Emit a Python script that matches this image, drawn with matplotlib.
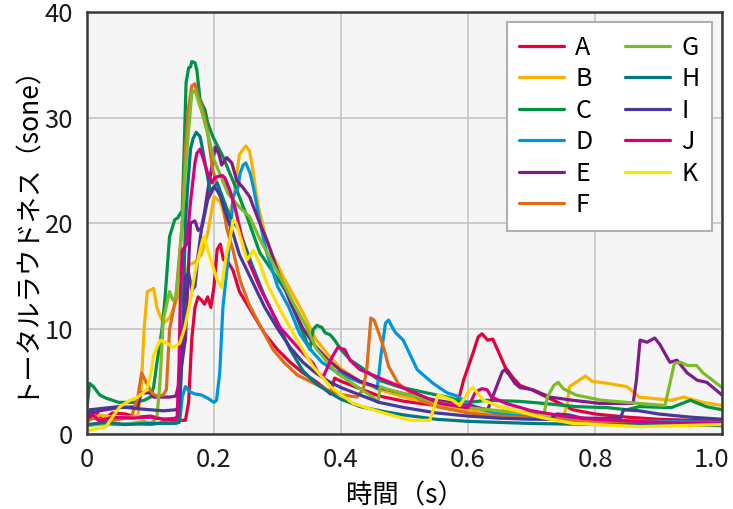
import matplotlib
matplotlib.use("Agg")
import matplotlib.pyplot as plt
from matplotlib.transforms import ScaledTranslation

plt.rcParams['font.family'] = ['Noto Sans CJK JP', 'DejaVu Sans']

# Loudness traces: (time [s], total loudness [sone]) for each sample
labels = ["A", "B", "C", "D", "E", "F", "G", "H", "I", "J", "K"]
colors = ["#e4003a", "#f9b200", "#009245", "#0096dc", "#7e1d8a", "#e06b18",
          "#7cbc2a", "#007a80", "#453a98", "#d6007e", "#ffe100"]

curve_A = [(0, 1.0), (0.005, 2.3), (0.015, 2.0), (0.025, 1.3), (0.04, 2.0), (0.06, 1.9), (0.08, 1.6),
           (0.10, 1.7), (0.12, 1.4), (0.14, 1.3), (0.155, 1.3), (0.16, 3.0), (0.165, 9.0), (0.17, 12.0),
           (0.175, 13.0), (0.18, 12.7), (0.185, 12.3), (0.19, 13.0), (0.195, 12.0), (0.2, 14.0),
           (0.205, 17.5), (0.21, 18.0), (0.215, 16.5), (0.22, 16.5), (0.23, 15.5), (0.24, 13.5),
           (0.26, 11.5), (0.28, 9.5), (0.30, 8.0), (0.32, 6.8), (0.34, 5.8), (0.36, 5.0), (0.375, 4.3),
           (0.383, 3.8), (0.39, 5.3), (0.40, 5.0), (0.43, 4.3), (0.46, 3.6), (0.50, 3.1), (0.55, 2.7),
           (0.58, 2.5), (0.585, 3.2), (0.593, 5.1), (0.608, 7.7), (0.616, 9.2), (0.622, 9.5),
           (0.631, 8.9), (0.639, 9.0), (0.648, 7.8), (0.658, 6.4), (0.67, 5.4), (0.682, 4.6),
           (0.70, 4.2), (0.724, 3.5), (0.745, 2.9), (0.765, 2.3), (0.80, 1.9), (0.85, 1.6),
           (0.90, 1.4), (0.95, 1.3), (1.0, 1.2)]

curve_B = [(0, 1.2), (0.02, 1.8), (0.05, 1.5), (0.08, 1.7), (0.085, 4.0), (0.09, 10.0), (0.095, 13.5),
           (0.105, 13.8), (0.11, 12.0), (0.12, 10.5), (0.13, 11.0), (0.14, 12.5), (0.15, 14.5),
           (0.16, 16.0), (0.17, 16.3), (0.18, 17.0), (0.19, 19.0), (0.2, 22.5), (0.21, 22.0),
           (0.22, 20.0), (0.23, 22.0), (0.24, 26.5), (0.25, 27.3), (0.256, 26.8), (0.26, 25.5),
           (0.265, 23.4), (0.27, 21.5), (0.275, 20.3), (0.28, 19.0), (0.29, 17.2), (0.31, 14.8),
           (0.34, 11.5), (0.36, 9.0), (0.38, 7.5), (0.40, 6.2), (0.43, 5.0), (0.46, 4.2), (0.50, 3.5),
           (0.55, 2.8), (0.60, 2.3), (0.65, 2.0), (0.70, 1.8), (0.75, 1.6), (0.756, 2.8), (0.76, 4.5),
           (0.78, 5.3), (0.785, 5.5), (0.795, 5.0), (0.82, 4.8), (0.85, 4.5), (0.87, 3.5), (0.92, 3.2),
           (0.94, 3.5), (0.97, 3.0), (1.0, 2.7)]

curve_C = [(0, 2.5), (0.004, 4.8), (0.01, 4.5), (0.02, 3.7), (0.03, 3.4), (0.05, 3.0), (0.075, 3.0),
           (0.09, 3.2), (0.10, 3.5), (0.105, 4.5), (0.11, 6.7), (0.118, 9.9), (0.123, 13.0),
           (0.13, 18.7), (0.138, 20.3), (0.143, 20.5), (0.15, 21.2), (0.153, 27.0), (0.156, 33.3),
           (0.16, 34.7), (0.163, 34.8), (0.165, 35.3), (0.17, 35.2), (0.173, 34.5), (0.178, 31.7),
           (0.186, 30.7), (0.19, 29.5), (0.198, 28.2), (0.214, 26.3), (0.236, 23.1), (0.252, 20.6),
           (0.272, 17.2), (0.315, 13.4), (0.34, 9.6), (0.351, 8.0), (0.356, 9.9), (0.362, 10.3),
           (0.37, 10.1), (0.375, 9.6), (0.383, 9.4), (0.39, 8.9), (0.40, 8.0), (0.415, 7.0),
           (0.43, 6.4), (0.46, 5.1), (0.49, 4.5), (0.535, 3.9), (0.567, 3.5), (0.60, 3.0),
           (0.63, 3.2), (0.68, 3.1), (0.72, 2.9), (0.77, 2.6), (0.82, 2.5), (0.85, 2.3), (0.87, 2.6),
           (0.92, 2.5), (0.95, 3.2), (0.975, 2.6), (1.0, 2.3)]

curve_D = [(0, 0.8), (0.02, 1.0), (0.05, 0.9), (0.08, 1.0), (0.10, 0.9), (0.12, 1.1), (0.14, 1.0),
           (0.146, 1.2), (0.15, 3.5), (0.155, 4.5), (0.162, 4.0), (0.17, 3.8), (0.18, 3.7), (0.19, 3.4),
           (0.2, 3.0), (0.204, 3.2), (0.209, 5.8), (0.214, 12.0), (0.222, 16.5), (0.227, 20.0),
           (0.23, 22.5), (0.238, 23.4), (0.241, 24.7), (0.246, 25.5), (0.25, 25.7), (0.257, 24.7),
           (0.262, 23.4), (0.268, 21.5), (0.275, 19.3), (0.283, 17.2), (0.30, 14.0), (0.318, 12.0),
           (0.335, 9.5), (0.352, 8.0), (0.37, 6.8), (0.39, 6.0), (0.41, 5.4), (0.43, 4.9), (0.45, 4.6),
           (0.457, 4.3), (0.463, 7.5), (0.47, 10.5), (0.475, 10.8), (0.48, 10.2), (0.486, 9.6),
           (0.498, 8.9), (0.52, 6.1), (0.545, 4.8), (0.567, 3.9), (0.583, 3.6), (0.60, 2.9),
           (0.615, 2.5), (0.63, 2.2), (0.65, 1.9), (0.70, 1.6), (0.75, 1.4), (0.80, 1.3), (0.90, 1.2),
           (1.0, 1.1)]

curve_E = [(0, 1.8), (0.02, 2.2), (0.05, 2.5), (0.08, 2.6), (0.085, 3.9), (0.10, 3.9), (0.105, 3.5),
           (0.13, 3.5), (0.14, 3.6), (0.145, 4.8), (0.155, 9.0), (0.16, 16.0), (0.163, 20.0),
           (0.17, 20.2), (0.175, 19.3), (0.18, 19.5), (0.185, 21.0), (0.19, 23.0), (0.197, 25.5),
           (0.202, 27.2), (0.208, 26.5), (0.212, 25.5), (0.22, 26.2), (0.228, 25.7), (0.236, 24.0),
           (0.245, 23.4), (0.256, 22.5), (0.272, 20.0), (0.285, 18.1), (0.30, 15.5), (0.32, 12.5),
           (0.34, 10.0), (0.36, 8.3), (0.38, 7.0), (0.40, 6.0), (0.43, 5.0), (0.46, 4.4), (0.50, 3.8),
           (0.55, 3.2), (0.60, 2.7), (0.631, 2.3), (0.645, 4.5), (0.654, 5.9), (0.658, 6.1),
           (0.665, 5.6), (0.674, 4.8), (0.682, 4.4), (0.702, 4.2), (0.729, 3.5), (0.765, 3.2),
           (0.808, 2.9), (0.86, 2.9), (0.865, 5.0), (0.871, 8.9), (0.882, 8.7), (0.894, 9.1),
           (0.902, 8.5), (0.918, 6.8), (0.929, 7.0), (0.945, 5.8), (0.961, 5.1), (0.976, 4.9),
           (1.0, 3.7)]

curve_F = [(0, 1.3), (0.01, 1.5), (0.03, 1.2), (0.05, 1.4), (0.07, 1.6), (0.08, 3.5), (0.086, 5.8),
           (0.094, 4.8), (0.102, 3.9), (0.11, 3.6), (0.12, 3.7), (0.125, 4.2), (0.13, 9.9),
           (0.14, 13.0), (0.15, 20.0), (0.155, 27.0), (0.16, 31.0), (0.165, 33.0), (0.17, 33.2),
           (0.175, 32.0), (0.181, 31.0), (0.189, 29.0), (0.198, 25.0), (0.213, 22.2), (0.22, 19.5),
           (0.23, 17.4), (0.241, 14.6), (0.255, 12.3), (0.268, 10.8), (0.293, 8.0), (0.31, 6.8),
           (0.331, 5.6), (0.351, 5.0), (0.378, 4.2), (0.403, 3.7), (0.425, 3.5), (0.435, 4.2),
           (0.441, 6.4), (0.447, 11.0), (0.452, 10.8), (0.46, 9.5), (0.468, 8.0), (0.475, 6.4),
           (0.49, 4.8), (0.51, 3.9), (0.525, 3.2), (0.55, 2.6), (0.60, 2.0), (0.65, 1.7), (0.70, 1.5),
           (0.80, 1.2), (0.90, 1.1), (1.0, 1.0)]

curve_G = [(0, 0.8), (0.03, 1.0), (0.06, 0.9), (0.09, 1.2), (0.10, 1.0), (0.11, 1.5), (0.115, 5.0),
           (0.12, 10.8), (0.13, 13.5), (0.135, 12.7), (0.14, 13.0), (0.145, 16.0), (0.15, 20.0),
           (0.155, 25.0), (0.16, 28.8), (0.165, 32.3), (0.17, 32.6), (0.18, 30.7), (0.19, 28.5),
           (0.2, 26.0), (0.222, 22.8), (0.24, 21.5), (0.256, 20.6), (0.272, 18.5), (0.29, 16.5),
           (0.304, 14.9), (0.325, 12.4), (0.346, 10.1), (0.362, 8.0), (0.393, 5.8), (0.425, 4.5),
           (0.45, 3.5), (0.458, 3.0), (0.462, 4.5), (0.47, 4.3), (0.50, 3.8), (0.55, 3.0), (0.60, 2.5),
           (0.65, 2.2), (0.70, 2.0), (0.72, 2.0), (0.725, 3.5), (0.735, 4.6), (0.742, 4.9), (0.75, 4.3),
           (0.77, 3.7), (0.81, 3.2), (0.87, 2.9), (0.91, 2.7), (0.915, 4.0), (0.925, 6.7), (0.935, 6.8),
           (0.945, 6.5), (0.96, 6.5), (0.97, 5.8), (0.985, 5.1), (1.0, 4.4)]

curve_H = [(0, 0.9), (0.03, 1.1), (0.06, 0.9), (0.10, 1.0), (0.13, 1.0), (0.145, 1.1), (0.15, 8.0),
           (0.155, 20.0), (0.158, 23.0), (0.163, 27.0), (0.167, 28.0), (0.172, 28.6), (0.178, 28.2),
           (0.182, 27.0), (0.188, 25.0), (0.194, 23.0), (0.205, 23.8), (0.21, 23.0), (0.225, 20.6),
           (0.24, 19.3), (0.26, 16.0), (0.28, 13.0), (0.30, 10.5), (0.32, 8.0), (0.34, 6.0),
           (0.36, 4.8), (0.38, 4.0), (0.40, 3.3), (0.43, 2.6), (0.47, 2.1), (0.50, 1.8), (0.55, 1.4),
           (0.60, 1.2), (0.65, 1.1), (0.70, 1.0), (0.80, 0.9), (0.90, 0.9), (1.0, 0.8)]

curve_I = [(0, 1.0), (0.005, 2.3), (0.02, 2.4), (0.05, 2.6), (0.08, 2.4), (0.10, 2.3), (0.12, 2.2),
           (0.14, 2.3), (0.145, 2.6), (0.15, 8.0), (0.155, 14.9), (0.16, 15.3), (0.165, 13.6),
           (0.17, 14.0), (0.175, 17.0), (0.18, 19.3), (0.19, 22.2), (0.2, 23.4), (0.205, 23.1),
           (0.21, 22.5), (0.22, 20.6), (0.23, 19.0), (0.24, 17.0), (0.26, 14.5), (0.28, 12.0),
           (0.30, 10.0), (0.32, 8.2), (0.34, 6.8), (0.36, 5.8), (0.38, 5.0), (0.40, 4.4), (0.43, 3.7),
           (0.46, 3.0), (0.50, 2.5), (0.55, 2.0), (0.60, 1.7), (0.65, 1.5), (0.70, 1.4), (0.73, 1.4),
           (0.74, 1.9), (0.76, 1.8), (0.78, 1.5), (0.84, 1.5), (0.845, 2.3), (0.87, 2.2), (0.90, 1.9),
           (0.95, 1.6), (1.0, 1.4)]

curve_J = [(0, 1.5), (0.01, 1.8), (0.02, 1.2), (0.04, 1.6), (0.07, 1.5), (0.10, 1.6), (0.12, 1.4),
           (0.14, 1.5), (0.142, 1.6), (0.145, 6.7), (0.147, 13.0), (0.15, 17.4), (0.157, 18.0),
           (0.163, 22.0), (0.17, 25.7), (0.173, 26.6), (0.178, 27.0), (0.182, 26.3), (0.19, 24.7),
           (0.197, 23.8), (0.201, 24.3), (0.206, 24.4), (0.213, 24.5), (0.217, 24.3), (0.225, 23.1),
           (0.233, 21.5), (0.25, 17.0), (0.272, 13.9), (0.304, 10.1), (0.335, 8.0), (0.356, 6.7),
           (0.364, 5.8), (0.372, 5.4), (0.386, 7.3), (0.395, 8.2), (0.406, 8.0), (0.414, 7.0),
           (0.43, 6.1), (0.461, 5.3), (0.493, 4.5), (0.524, 3.7), (0.556, 2.9), (0.587, 2.6),
           (0.60, 2.5), (0.612, 4.0), (0.622, 4.3), (0.63, 4.2), (0.637, 3.5), (0.66, 2.9), (0.70, 2.2),
           (0.75, 1.7), (0.80, 1.4), (0.90, 1.1), (1.0, 1.0)]

curve_K = [(0, 0.3), (0.03, 0.7), (0.04, 1.6), (0.052, 2.6), (0.068, 3.2), (0.08, 3.5), (0.094, 4.2),
           (0.10, 5.5), (0.105, 7.5), (0.11, 8.2), (0.115, 8.9), (0.126, 8.6), (0.136, 8.2),
           (0.146, 8.6), (0.154, 10.1), (0.162, 12.4), (0.17, 15.3), (0.178, 17.4), (0.182, 18.4),
           (0.185, 18.7), (0.19, 17.5), (0.195, 16.5), (0.205, 14.6), (0.212, 13.9), (0.22, 17.2),
           (0.225, 18.4), (0.23, 20.3), (0.235, 20.0), (0.24, 19.0), (0.252, 16.5), (0.262, 17.4),
           (0.272, 16.2), (0.283, 14.3), (0.304, 11.8), (0.331, 8.9), (0.356, 6.4), (0.383, 4.5),
           (0.419, 2.9), (0.461, 2.1), (0.509, 1.3), (0.54, 1.3), (0.553, 3.7), (0.576, 3.2),
           (0.587, 2.7), (0.603, 4.2), (0.608, 4.4), (0.624, 3.2), (0.65, 2.6), (0.671, 2.3),
           (0.713, 1.6), (0.765, 1.0), (0.871, 0.7), (1.0, 0.9)]

curves = [curve_A, curve_B, curve_C, curve_D, curve_E, curve_F,
          curve_G, curve_H, curve_I, curve_J, curve_K]

x_ticks = [0, 0.2, 0.4, 0.6, 0.8, 1.0]
x_tick_labels = ["0", "0.2", "0.4", "0.6", "0.8", "1.0"]
y_ticks = [0, 10, 20, 30, 40]

fig = plt.figure(figsize=(7.33, 5.09), dpi=100)
ax = fig.add_axes([0.1187, 0.1473, 0.8663, 0.8291])
ax.set_facecolor("#f5f5f5")

for name, pts, col in zip(labels, curves, colors):
    ts = [p[0] for p in pts]
    vs = [p[1] for p in pts]
    ax.plot(ts, vs, color=col, lw=2.3, label=name, solid_joinstyle="round",
            solid_capstyle="round", zorder=3)

ax.set_xlim(0, 1.0)
ax.set_ylim(0, 40)
ax.set_xticks(x_ticks)
ax.set_xticklabels(x_tick_labels)
ax.set_yticks(y_ticks)
ax.grid(True, color="#c8c8c8", lw=1.3, zorder=0)
ax.set_axisbelow(True)
ax.tick_params(length=0, labelsize=18.5, colors="#1a1a1a")
ax.tick_params(axis="x", pad=9)
ax.tick_params(axis="y", pad=10)
for sp in ax.spines.values():
    sp.set_color("#3a3a3a")
    sp.set_linewidth(1.8)
    sp.set_zorder(4)

# keep the last x tick label inside the figure
last = ax.get_xticklabels()[-1]
last.set_transform(last.get_transform() + ScaledTranslation(-10 / 100, 0, fig.dpi_scale_trans))

ax.set_xlabel("時間（s）", fontsize=19, labelpad=7)
ax.set_ylabel("トータルラウドネス（sone）", fontsize=19, labelpad=6)

leg = ax.legend(ncol=2, loc="upper right", fontsize=18, frameon=True, fancybox=False,
                handlelength=1.8, handletextpad=0.45, columnspacing=1.3,
                labelspacing=0.22, borderpad=0.5, borderaxespad=0.4)
leg.get_frame().set_edgecolor("#b0b0b0")
leg.get_frame().set_linewidth(1.5)
leg.get_frame().set_facecolor("white")
leg.get_frame().set_alpha(1.0)
leg.set_zorder(5)

fig.savefig("out.png", dpi=100)
